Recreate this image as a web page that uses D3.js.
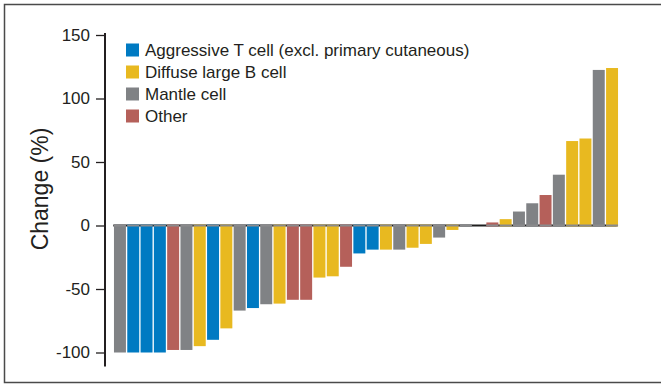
<!DOCTYPE html>
<html>
<head>
<meta charset="utf-8">
<script src="https://cdn.jsdelivr.net/npm/d3@7"></script>
<style>
  html, body { margin: 0; padding: 0; background: #fff; }
  svg { display: block; }
  text { font-family: "Liberation Sans", Arial, Helvetica, sans-serif; fill: #231f20; }
</style>
</head>
<body>
<svg id="chart" width="661" height="386"></svg>
<script>
// Per-patient percent change, ordered from largest decrease to largest increase
const changes = [
  -100, -100, -100, -100, -98, -98, -95, -90, -81, -67,
  -65, -62, -61.5, -58.5, -58.5, -41, -40, -32.5, -22, -19,
  -19, -19, -17.5, -14.5, -9.5, -3.5, -1, 0, 2.4, 5,
  11, 17.5, 24, 40, 66.5, 68.5, 122.5, 124
];
// Lymphoma subtype of each patient (index into subtypes)
const subtypeOf = [
  2, 0, 0, 0, 3, 2, 1, 0, 1, 2,
  0, 2, 1, 3, 3, 1, 1, 3, 0, 0,
  1, 2, 1, 1, 2, 1, 2, 3, 3, 1,
  2, 2, 3, 2, 1, 1, 2, 1
];
const subtypes = [
  "Aggressive T cell (excl. primary cutaneous)",
  "Diffuse large B cell",
  "Mantle cell",
  "Other"
];
const subtypeColors = ["#007ac2", "#e8b920", "#808285", "#b5605a"];
const yTicks = [-100, -50, 0, 50, 100, 150];
const yTitle = "Change (%)";

const svg = d3.select("#chart");

// Outer frame (open on the right edge)
svg.append("rect")
  .attr("x", 4.5).attr("y", 4.5)
  .attr("width", 700).attr("height", 378)
  .attr("fill", "none")
  .attr("stroke", "#4a4a4a")
  .attr("stroke-width", 1.5);

const patients = changes.map((v, i) => ({ id: i, value: v, type: subtypeOf[i] }));

const x = d3.scaleBand()
  .domain(patients.map(d => d.id))
  .range([113.3, 618.7])
  .paddingInner(0.1)
  .paddingOuter(0.05);

const y = d3.scaleLinear()
  .domain([-100, 150])
  .range([352.5, 35]);

// Zero reference line
svg.append("line")
  .attr("x1", x.range()[0]).attr("x2", x.range()[1] - 2)
  .attr("y1", y(0)).attr("y2", y(0))
  .attr("stroke", "#1e1e1e")
  .attr("stroke-width", 2);

// Bars
svg.append("g")
  .selectAll("rect")
  .data(patients.filter(d => d.value !== 0))
  .join("rect")
  .attr("x", d => x(d.id))
  .attr("width", x.bandwidth())
  .attr("y", d => d.value < 0 ? y(0) - 1 : y(d.value))
  .attr("height", d => d.value < 0 ? y(d.value) - y(0) + 1 : y(0) - y(d.value) + 1)
  .attr("fill", d => subtypeColors[d.type]);

// Grey band where each bar meets the zero line
svg.append("g")
  .selectAll("rect")
  .data(patients.filter(d => d.value !== 0))
  .join("rect")
  .attr("x", d => x(d.id))
  .attr("width", x.bandwidth())
  .attr("y", y(0) - 1)
  .attr("height", 2)
  .attr("fill", "#8a8a8c");

// Y axis (plain hyphen for negative labels)
const yAxis = svg.append("g")
  .attr("transform", "translate(105,0)")
  .call(d3.axisLeft(y).tickValues(yTicks).tickSize(9).tickPadding(6).tickFormat(d => String(d)));
yAxis.select(".domain").remove();
yAxis.selectAll(".tick line").attr("stroke", "#231f20").attr("stroke-width", 1.3);
yAxis.selectAll(".tick text")
  .style("font-family", "'Liberation Sans', Arial, sans-serif")
  .style("font-size", "17px")
  .attr("fill", "#231f20");
yAxis.append("line")
  .attr("x1", 0).attr("x2", 0)
  .attr("y1", y(150) - 2).attr("y2", y(-100) + 14)
  .attr("stroke", "#231f20")
  .attr("stroke-width", 2);

// Y axis title
svg.append("text")
  .attr("transform", "translate(48,189) rotate(-90)")
  .attr("text-anchor", "middle")
  .style("font-size", "23px")
  .text(yTitle);

// Legend
const legend = svg.append("g").attr("transform", "translate(126,0)");
const rows = legend.selectAll("g")
  .data(subtypes)
  .join("g")
  .attr("transform", (d, i) => `translate(0,${50 + i * 22})`);
rows.append("rect")
  .attr("x", 0).attr("y", -6.5)
  .attr("width", 13).attr("height", 13)
  .attr("fill", (d, i) => subtypeColors[i]);
rows.append("text")
  .attr("x", 19).attr("y", 6)
  .style("font-size", "17px")
  .text(d => d);
</script>
</body>
</html>
